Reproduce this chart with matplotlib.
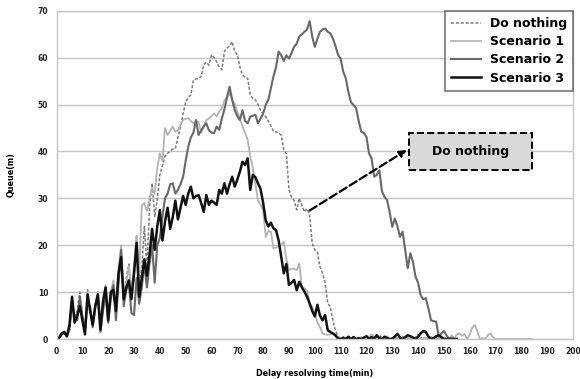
import matplotlib
matplotlib.use("Agg")
import matplotlib.pyplot as plt
from matplotlib.patches import Rectangle

# data (minutes, queue in m)
do_nothing = [0, 0.3, 1.2, 1.5, 0.6, 3, 8.5, 5, 6, 10, 5, 2, 10.5, 6, 3, 7, 10, 2, 8, 11,
              5, 9, 12, 6, 13, 17, 9, 13, 16, 9, 13, 22, 12, 15, 24, 15, 28, 33.2, 26, 29.7,
              35, 37, 39, 39.6, 40, 40.5, 40.6, 43, 45.3, 48, 50.5, 51.6, 52, 55.2, 55.5, 55.5, 56, 58.5, 59, 58.4,
              60.6, 60, 59.1, 58, 57.4, 61.3, 62, 62.5, 63.4, 61.3, 60.6, 58, 56.3, 55.8, 55.6, 52, 51.3, 51, 50, 48.8,
              48, 47.4, 46.5, 45.5, 44.2, 44.2, 43.9, 43.5, 40.3, 39.6, 31.8, 30.3, 29.5, 27.5, 30, 28.5, 27.1, 27.8, 26.4, 20.4,
              19, 18.6, 15.4, 14, 12, 7.6, 6.9, 4, 1.9, 0.5, 0.1, 0, 0, 0.3, 0, 0.2, 0, 0, 0.4, 0,
              0.5, 0, 0.3, 0, 0.4, 0.8, 0.2, 0, 0.3, 0, 0.3, 0, 0.2, 0, 0.4, 0.5, 0, 0.2, 0, 0.3,
              1, 0.4, 0, 0.2, 0, 0.3, 0, 0.2, 0, 0, 0, 0.5, 0.2, 0, 0, 0]
scenario1 = [0, 0.3, 1, 1.4, 0.8, 2.5, 8.5, 4, 5.5, 8, 4.5, 1.5, 10, 6.5, 3.5, 7.5, 10, 2.5, 8.5, 11.5,
             5, 10, 12.5, 7, 15, 20, 10, 12, 15.5, 10, 16, 22, 14, 28.5, 29, 27.3, 30, 32.2, 31, 36.5,
             39.6, 38, 45, 43.5, 44.5, 45.3, 44.2, 44.5, 45.8, 46.7, 47, 47.1, 46.5, 46, 46.5, 46.3, 44, 45.5, 46.7, 47,
             47.5, 48.1, 47.5, 48.5, 49.2, 50.9, 51.5, 52.4, 51, 50.2, 48.5, 47, 45.3, 44, 42.5, 39, 36.5, 33, 29.6, 28.6,
             27.5, 21.8, 23, 22.9, 19.3, 19.5, 19.7, 20, 20.7, 17, 14.7, 15, 15, 14.7, 16.1, 11.2, 10.8, 10.4, 7.5, 6.9,
             5.5, 3.5, 2.6, 1.2, 1, 0.9, 1, 1.2, 0.5, 0.1, 0, 0, 0.2, 0, 0, 0.5, 0, 0, 0.3, 0,
             0, 0.4, 1, 0.3, 0, 0, 0.2, 0, 0.6, 0, 0, 0, 0.3, 0, 0, 0, 0.4, 0, 0, 0,
             0, 0, 0.2, 0, 0, 0.5, 0, 0, 0, 0, 0, 0, 0, 0.8, 0, 1, 1.2, 0.7, 1, 0,
             1, 2.5, 3, 1.5, 0, 0.2, 0, 0.8, 1.2, 0.4, 0, 0, 0, 0, 0, 0, 0, 0, 0, 0,
             0, 0, 0, 0, 0]
scenario2 = [0, 0.2, 1, 1.3, 0.5, 2, 8, 4.5, 4, 9, 5, 1.5, 8, 7, 2.5, 7, 9, 1.5, 6, 10,
             3.5, 8.5, 11.5, 4, 12, 19, 7, 10.5, 12, 5.5, 5.1, 13, 7.5, 11, 16, 11, 16, 20, 12, 20,
             21.5, 26, 30, 31, 33, 33.2, 31, 31.8, 33, 34.6, 38, 41, 43, 44, 46.7, 43.5, 44.5, 45.3, 46, 44.5,
             44, 43.9, 45.3, 44.6, 47, 49, 51.5, 53.8, 51, 48.8, 47.5, 46.7, 48.8, 46.5, 46, 47.4, 47.6, 47.8, 46, 47,
             48.1, 49.9, 51, 53.5, 56, 58, 61.3, 60.5, 59.3, 60.5, 59.8, 61, 62.3, 63, 64.5, 65, 65.5, 66, 67.8, 64.5,
             62.3, 64, 65.5, 66, 66.2, 65.5, 65.2, 64.1, 62.5, 60.6, 59.8, 57, 55.6, 52.7, 50.5, 49.9, 49.2, 46.5, 44.2, 43.9,
             43.1, 39.6, 38.5, 34.6, 35, 36, 31.5, 30.3, 29.6, 27, 23.9, 25.7, 24, 21.8, 22.9, 19, 15.1, 18.3, 16.5, 13.3,
             12, 9.3, 8.5, 8.7, 6.5, 4, 3.8, 3.7, 0.5, 1.2, 1.7, 0.8, 0, 0.2, 0, 0]
scenario3 = [0, 0.3, 1.2, 1.5, 0.6, 3, 9, 3.5, 5, 7, 4, 1, 9.5, 6, 3, 7, 9.5, 2, 8, 11,
             4, 10, 10.5, 6, 14, 17.5, 8.5, 11, 12.5, 8.5, 14, 20.5, 9, 13, 17, 13.5, 18, 23.5, 19, 24,
             27.5, 21, 25, 28, 23.5, 26, 29.5, 25.5, 28, 30.5, 28.6, 31, 32.5, 30, 30.5, 30.7, 29, 27.1, 30.7, 28.6,
             29.5, 29.1, 28.6, 31.8, 31, 33.2, 31, 33, 34.6, 32.5, 34, 35.7, 37.8, 37.1, 38.5, 31.8, 35, 34.5, 33.2, 32,
             29, 25.3, 24, 24.8, 23.6, 23.2, 21, 17.5, 14, 16, 11.5, 12, 12.6, 10.4, 12.2, 11, 10.1, 9, 7.6, 6,
             4.8, 7.3, 5, 4, 5.1, 1.9, 1.5, 1.2, 0.8, 0.1, 0, 0.3, 0, 0.5, 0, 0.4, 0, 0.2, 0, 0.3,
             0.6, 0, 0.4, 0.1, 0.8, 0.2, 0, 0.5, 0.2, 0, 0.1, 0.5, 1.1, 0.3, 0, 0.4, 0.8, 0.6, 0.3, 0,
             0.5, 1.2, 1.7, 1.5, 0.5, 0, 0.2, 0.6, 0.8, 0.4, 0, 0, 0, 0, 0, 0]

series = [("Do nothing", do_nothing, "#7a7a7a", (0, (2.0, 1.2)), 1.1),
          ("Scenario 1", scenario1, "#b3b3b3", "-", 1.3),
          ("Scenario 2", scenario2, "#686868", "-", 1.5),
          ("Scenario 3", scenario3, "#111111", "-", 1.8)]

fig = plt.figure(figsize=(5.8, 3.79), dpi=100)
ax = fig.add_axes([0.0975, 0.1055, 0.8905, 0.8662])

for name, vals, col, ls, lw in series:
    ax.plot(range(len(vals)), vals, color=col, linestyle=ls, linewidth=lw, label=name)

ax.set_xlim(0, 200)
ax.set_ylim(0, 70)
ax.set_xticks(range(0, 201, 10))
ax.set_yticks(range(0, 71, 10))
ax.grid(axis="y", color="#c4c4c4", linewidth=1)
ax.set_axisbelow(True)
for s in ax.spines.values():
    s.set_color("#c4c4c4")
    s.set_linewidth(1)
ax.tick_params(length=0, labelsize=5.5, labelcolor="#222222", pad=6)
for lab in ax.get_xticklabels() + ax.get_yticklabels():
    lab.set_fontweight("bold")

ax.set_xlabel("Delay resolving time(min)", fontsize=5.8, fontweight="bold", labelpad=9)
ax.set_ylabel("Queue(m)", fontsize=5.8, fontweight="bold", labelpad=16)

leg = ax.legend(loc="upper right", borderaxespad=0, fancybox=False, frameon=True,
                prop={"weight": "bold", "size": 9}, handlelength=2.4, handletextpad=0.7,
                labelspacing=0.42, borderpad=0.5)
leg.get_frame().set_edgecolor("#555555")
leg.get_frame().set_linewidth(1.2)

# callout box with dashed arrow
ax.add_patch(Rectangle((136.4, 36.0), 47.9, 7.9, facecolor="#d9d9d9", edgecolor="black",
                       linestyle="--", linewidth=1.4, zorder=5))
ax.text(160.3, 39.95, "Do nothing", ha="center", va="center", fontsize=9,
        fontweight="bold", zorder=6)
ax.annotate("", xy=(135.6, 40.3), xytext=(98, 27.4),
            arrowprops=dict(arrowstyle="-|>", linestyle="--", linewidth=1.6, color="black",
                            shrinkA=0, shrinkB=0, mutation_scale=10))

fig.savefig("out.png", dpi=100)
